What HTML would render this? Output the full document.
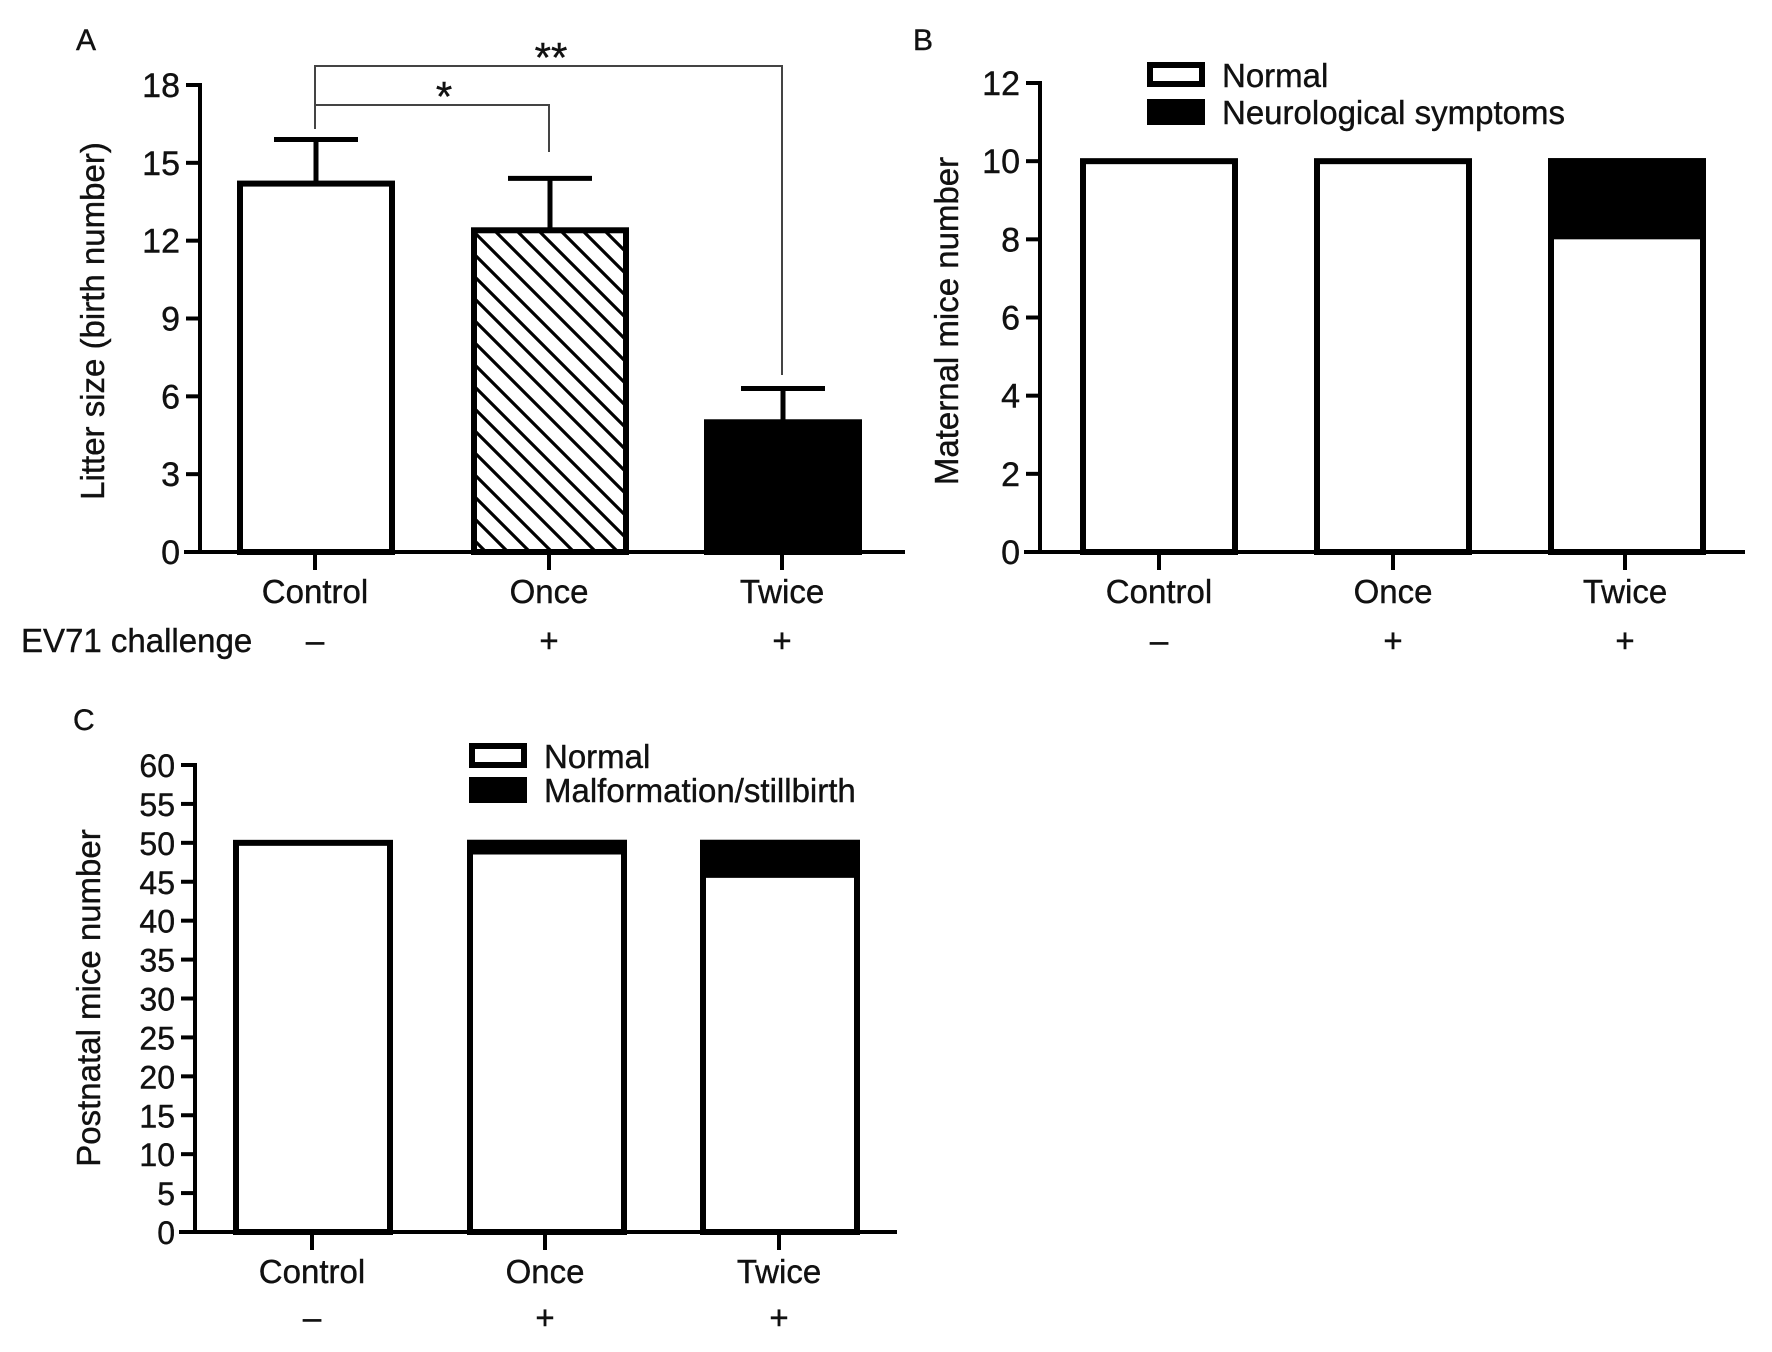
<!DOCTYPE html>
<html><head><meta charset="utf-8"><style>
html,body{margin:0;padding:0;background:#fff}
svg{display:block}
text{font-family:"Liberation Sans",Arial,sans-serif;fill:#111;stroke:#111;stroke-width:0.4}
</style></head><body>
<svg id="fig" width="1772" height="1352" viewBox="0 0 1772 1352" xmlns="http://www.w3.org/2000/svg"></svg>
<script>
// Panel A data
const catsA = ["Control","Once","Twice"];
const meanA = [14.2, 12.4, 5.0];
const errA = [15.9, 14.4, 6.3];
const ticksA = [0,3,6,9,12,15,18];
// Panel B data
const catsB = ["Control","Once","Twice"];
const normalB = [10, 10, 8];
const neuroB = [0, 0, 2];
const ticksB = [0,2,4,6,8,10,12];
// Panel C data
const catsC = ["Control","Once","Twice"];
const normalC = [50, 48.5, 45.5];
const malfC = [0, 1.5, 4.5];
const ticksC = [0,5,10,15,20,25,30,35,40,45,50,55,60];
const signs = ["\u2013","+","+"];

const NS="http://www.w3.org/2000/svg";
const svg=document.getElementById('fig');
function el(tag,attrs,parent){const e=document.createElementNS(NS,tag);for(const k in attrs)e.setAttribute(k,attrs[k]);(parent||svg).appendChild(e);return e;}
function txt(s,x,y,attrs,parent){const t=el('text',Object.assign({x:x,y:y,'font-size':33},attrs||{}),parent);t.textContent=s;return t;}

function panel(cfg){
  const g=el('g',{});
  
  
  const ys=v=>cfg.y0+(cfg.yTop-cfg.y0)*(v-cfg.min)/(cfg.max-cfg.min);
  const ax=el('line',{x1:cfg.ax,y1:ys(cfg.max)-2,x2:cfg.ax,y2:cfg.y0+2,stroke:'#000','stroke-width':4},g);
  
  
  const xa=el('line',{x1:cfg.ax-16,y1:cfg.y0,x2:cfg.axEnd,y2:cfg.y0,stroke:'#000','stroke-width':4},g);
  
  
  cfg.ticks.forEach(t=>{
    const y=ys(t);
    el('line',{x1:cfg.ax-14,y1:y,x2:cfg.ax,y2:y,stroke:'#000','stroke-width':4},g);
    const tl=txt(String(t),cfg.ax-20,y+12,{'text-anchor':'end','font-size':cfg.tfs||34},g);
    
    
  });
  const yt=txt(cfg.ytitle,0,0,{'text-anchor':'middle','transform':`translate(${cfg.ytx},${cfg.yty}) rotate(-90)`},g);
  
  
  const pl=txt(cfg.letter,cfg.lx,cfg.ly,{'font-size':30},g);
  
  
  cfg.cats.forEach((c,i)=>{
    el('line',{x1:cfg.ticksX[i],y1:cfg.y0,x2:cfg.ticksX[i],y2:cfg.y0+18,stroke:'#000','stroke-width':4},g);
    const cl=txt(c,cfg.ticksX[i],cfg.labY,{'text-anchor':'middle'},g);
    
    
    const sl=txt(signs[i],cfg.ticksX[i],cfg.signY,{'text-anchor':'middle'},g);
    
    
  });
  return {g,ys};
}

// ---------- Panel A ----------
(function(){
  const cfg={name:'panel-a',ax:200,axEnd:905,y0:552,yTop:85,min:0,max:18,ticks:ticksA,ytitle:'Litter size (birth number)',ytx:104,yty:321,letter:'A',lx:76,ly:50,cats:catsA,cx:[316,550,783],ticksX:[315,549,782],labY:603,signY:652};
  const {g,ys}=panel(cfg);
  const defs=el('defs',{},g);
  const pat=el('pattern',{id:'hatch',patternUnits:'userSpaceOnUse',width:22,height:22},defs);
  el('rect',{width:22,height:22,fill:'#fff'},pat);
  el('path',{d:'M-5,-5 L27,27 M-5,17 L5,27 M17,-5 L27,5',stroke:'#000','stroke-width':3.2},pat);
  const fills=['#fff','url(#hatch)','#000'];
  const bw=152;
  catsA.forEach((c,i)=>{
    const cx=cfg.cx[i],top=ys(meanA[i]),et=ys(errA[i]);
    const eb=el('line',{x1:cx,y1:top,x2:cx,y2:et,stroke:'#000','stroke-width':5},g);
    
    
    el('line',{x1:cx-42,y1:et,x2:cx+42,y2:et,stroke:'#000','stroke-width':5},g);
    const r=el('rect',{x:cx-bw/2,y:top,width:bw,height:cfg.y0-top,fill:fills[i],stroke:'#000','stroke-width':6},g);
    
    
  });
  const br=el('g',{fill:'none',stroke:'#444','stroke-width':2},g);
  
  
  el('polyline',{points:'315,129 315,66 782,66 782,375'},br);
  el('polyline',{points:'315,105 549,105 549,152'},br);
  const s2=txt('**',551,72,{'text-anchor':'middle','font-size':42},g);
  
  
  const s1=txt('*',444,111,{'text-anchor':'middle','font-size':42},g);
  
  
  const ev=txt('EV71 challenge',21,652,{},g);
  
  
})();

function legend(g,x,y1,y2,labels){
  const l=el('g',{},g);
  
  
  el('rect',{x:x+3,y:y1+3,width:52,height:19,fill:'#fff',stroke:'#000','stroke-width':6},l);
  el('rect',{x:x,y:y2,width:58,height:26,fill:'#000'},l);
  const a=txt(labels[0],x+75,y1+25,{},l);
  
  
  const b=txt(labels[1],x+75,y2+25,{},l);
  
  
}

function stacked(cfg,normal,bad,bw){
  const {g,ys}=panel(cfg);
  cfg.cats.forEach((c,i)=>{
    const cx=cfg.cx[i];
    const yN=ys(normal[i]),yT=ys(normal[i]+bad[i]);
    const r=el('rect',{x:cx-bw/2,y:yT,width:bw,height:cfg.y0-yT,fill:'#fff',stroke:'#000','stroke-width':6},g);
    
    
    if(bad[i]>0){
      const b=el('rect',{x:cx-bw/2-3,y:yT-3,width:bw+6,height:yN-yT+3,fill:'#000'},g);
      
      
    }
  });
  return g;
}

// ---------- Panel B ----------
(function(){
  const cfg={name:'panel-b',ax:1040,axEnd:1745,y0:552,yTop:83,min:0,max:12,ticks:ticksB,ytitle:'Maternal mice number',ytx:958,yty:321,letter:'B',lx:913,ly:50,cats:catsB,cx:[1159,1393,1627],ticksX:[1159,1393,1625],labY:603,signY:652};
  const g=stacked(cfg,normalB,neuroB,152);
  legend(g,1147,62,99,['Normal','Neurological symptoms']);
})();

// ---------- Panel C ----------
(function(){
  const cfg={name:'panel-c',ax:195,axEnd:897,y0:1232,yTop:765,min:0,max:60,ticks:ticksC,tfs:32,ytitle:'Postnatal mice number',ytx:100,yty:998,letter:'C',lx:73,ly:730,cats:catsC,cx:[313,547,780],ticksX:[312,545,779],labY:1283,signY:1329};
  const g=stacked(cfg,normalC,malfC,154);
  legend(g,469,743,777,['Normal','Malformation/stillbirth']);
})();
</script>
</body></html>
